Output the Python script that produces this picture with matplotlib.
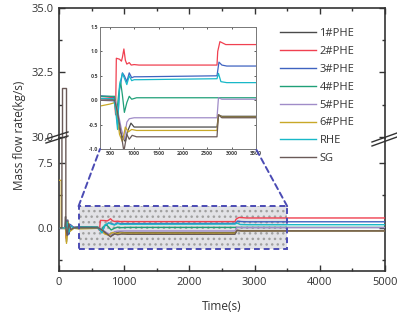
import matplotlib
matplotlib.use("Agg")
import matplotlib.pyplot as plt
from matplotlib.patches import Rectangle, ConnectionPatch
from matplotlib.lines import Line2D
from matplotlib.ticker import MultipleLocator, FormatStrFormatter

plt.rcParams['font.family'] = ['Open Sans', 'DejaVu Sans']

# series: (time s, mass flow kg/s)
labels = ['1#PHE', '2#PHE', '3#PHE', '4#PHE', '5#PHE', '6#PHE', 'RHE', 'SG']
colors = ['#4a4a4a', '#f04050', '#3f63c0', '#20a078', '#a08cc8', '#c8a828', '#18b8c8', '#6a5a58']

t_phe1 = [0, 90, 100, 115, 135, 155, 180, 230, 300, 600, 640, 700, 760, 820, 860, 935, 1000, 1100, 2700, 2730, 2800, 5000]
v_phe1 = [0, 0, 1.3, -1.6, 0.9, -0.7, 0.3, 0, 0.03, 0.02, -0.2, -0.6, -0.75, -0.85, -0.65, -0.47, -0.55, -0.55, -0.55, -0.3, -0.33, -0.33]

t_phe2 = [0, 100, 110, 130, 150, 175, 220, 300, 590, 620, 635, 700, 740, 760, 790, 820, 850, 900, 940, 1000, 1100, 2700, 2715, 2760, 2880, 5000]
v_phe2 = [0, 0, -1.2, 0.8, -0.5, 0.3, 0.05, 0.08, 0.05, -0.3, 0.86, 0.84, 0.8, 0.88, 1.05, 0.82, 0.74, 0.77, 0.72, 0.73, 0.72, 0.72, 1.0, 1.2, 1.14, 1.14]

t_phe3 = [0, 100, 120, 145, 170, 220, 300, 580, 620, 660, 700, 760, 800, 850, 900, 950, 1000, 1100, 2700, 2740, 2800, 2900, 5000]
v_phe3 = [0, 0, 0.9, -0.8, 0.4, 0.05, 0.09, 0.07, -0.1, -0.5, 0.2, 0.56, 0.5, 0.38, 0.56, 0.46, 0.48, 0.48, 0.5, 0.78, 0.72, 0.7, 0.7]

t_phe4 = [0, 100, 130, 160, 220, 300, 600, 640, 680, 720, 760, 800, 850, 900, 950, 1050, 2700, 5000]
v_phe4 = [0, 0, 0.7, -0.4, 0, 0.08, 0.08, -0.3, 0.1, 0.4, 0.1, -0.25, -0.05, 0.08, 0.02, 0.05, 0.05, 0.05]

t_phe5 = [0, 100, 130, 160, 220, 300, 620, 680, 740, 800, 850, 900, 1000, 2700, 2730, 2800, 5000]
v_phe5 = [0, 0, -0.5, 0.3, 0, 0.0, -0.02, -0.3, -0.6, -0.8, -0.45, -0.38, -0.36, -0.36, 0.05, 0.02, 0.02]

t_phe6 = [0, 35, 35, 100, 115, 140, 170, 230, 300, 500, 600, 650, 700, 760, 820, 880, 950, 1050, 2700, 2730, 2800, 5000]
v_phe6 = [5.5, 5.5, 0, 0, -1.8, 0.6, -0.4, -0.05, -0.12, -0.08, -0.05, -0.3, -0.7, -0.85, -0.55, -0.65, -0.6, -0.62, -0.62, -0.3, -0.35, -0.35]

t_rhe = [0, 100, 120, 150, 180, 230, 300, 580, 620, 660, 700, 760, 800, 850, 900, 950, 1000, 1100, 2700, 2730, 2780, 2900, 5000]
v_rhe = [0, 0, 0.6, -0.5, 0.2, 0, 0.04, 0.03, -0.2, -0.6, 0.3, 0.55, 0.45, 0.32, 0.5, 0.4, 0.42, 0.42, 0.44, 0.55, 0.38, 0.36, 0.36]

t_sg = [0, 45, 45, 105, 105, 125, 150, 180, 230, 300, 600, 650, 720, 790, 850, 900, 960, 1050, 2700, 2730, 2800, 5000]
v_sg = [0, 0, 31.9, 31.9, 0, -0.9, 0.5, -0.2, 0, 0.0, 0.0, -0.2, -0.6, -1.05, -0.7, -0.8, -0.72, -0.75, -0.75, -0.3, -0.36, -0.36]

series = [(t_phe1, v_phe1), (t_phe2, v_phe2), (t_phe3, v_phe3), (t_phe4, v_phe4),
          (t_phe5, v_phe5), (t_phe6, v_phe6), (t_rhe, v_rhe), (t_sg, v_sg)]

fig = plt.figure(figsize=(3.97, 3.22), dpi=100)
W, H = 397.0, 322.0

ax_lo = fig.add_axes([59 / W, 1 - 271 / H, 326 / W, 133 / H])
ax_hi = fig.add_axes([59 / W, 1 - 138 / H, 326 / W, 130 / H], sharex=ax_lo)
ax_in = fig.add_axes([100 / W, 1 - 149 / H, 156 / W, 122 / H])

dark = '#333333'
for ax in (ax_lo, ax_hi):
    for (t, v), c, lab in zip(series, colors, labels):
        ax.plot(t, v, color=c, lw=1.0, label=lab, zorder=3)
    for s in ax.spines.values():
        s.set_linewidth(1.2)
        s.set_color(dark)
    ax.tick_params(which='both', direction='in', colors=dark, labelsize=8, right=True, pad=4)
    ax.tick_params(which='major', length=4, width=1)
    ax.tick_params(which='minor', length=2.5, width=1)

ax_lo.set_xlim(0, 5000)
ax_lo.set_ylim(-5, 10.4)
ax_hi.set_ylim(29.95, 35)

ax_lo.xaxis.set_major_locator(MultipleLocator(1000))
ax_lo.xaxis.set_minor_locator(MultipleLocator(500))
ax_lo.yaxis.set_major_locator(MultipleLocator(7.5))
ax_lo.yaxis.set_minor_locator(MultipleLocator(3.75))
ax_hi.yaxis.set_major_locator(MultipleLocator(2.5))
ax_hi.yaxis.set_minor_locator(MultipleLocator(1.25))
ax_lo.yaxis.set_major_formatter(FormatStrFormatter('%.1f'))
ax_hi.yaxis.set_major_formatter(FormatStrFormatter('%.1f'))

ax_lo.spines['top'].set_visible(False)
ax_hi.spines['bottom'].set_visible(False)
ax_lo.tick_params(which='both', top=False)
ax_hi.tick_params(which='both', top=True, bottom=False, labelbottom=False)

ax_lo.set_xlabel('Time(s)', fontsize=8.5, color=dark, labelpad=9)
fig.text(20 / W, 1 - 135 / H, 'Mass flow rate(kg/s)', rotation=90, fontsize=8.5,
         color=dark, ha='center', va='center')

# zoom window in the main plot
ax_lo.add_patch(Rectangle((300, -2.5), 3200, 5.0, facecolor='#e2e2e6', edgecolor='#a0a0a0',
                          hatch='...', lw=0, zorder=2))
ax_lo.add_patch(Rectangle((300, -2.5), 3200, 5.0, fill=False, edgecolor='#4b4bb4',
                          lw=1.4, ls=(0, (3, 2)), zorder=4))

# inset
for (t, v), c in zip(series, colors):
    ax_in.plot(t, v, color=c, lw=0.9)
ax_in.set_xlim(300, 3500)
ax_in.set_ylim(-1.0, 1.5)
ax_in.xaxis.set_major_locator(MultipleLocator(500))
ax_in.yaxis.set_major_locator(MultipleLocator(0.5))
ax_in.yaxis.set_major_formatter(FormatStrFormatter('%.1f'))
ax_in.tick_params(direction='in', labelsize=3.8, length=1.5, width=0.6, pad=1.5,
                  top=True, right=True, colors='#444444')
for s in ax_in.spines.values():
    s.set_linewidth(0.7)
    s.set_color('#777777')
for lab in ax_in.get_xticklabels() + ax_in.get_yticklabels():
    lab.set_fontweight('bold')

for xa, xb in ((300, 0), (3500, 1)):
    cp = ConnectionPatch(xyA=(xa, 2.5), coordsA=ax_lo.transData, xyB=(xb, 0),
                         coordsB=ax_in.transAxes, color='#4b4bb4', lw=1.4, ls=(0, (3, 2)))
    fig.add_artist(cp)

# axis break marks
for x0, x1, y0, y1 in ((46, 68, 143, 136), (46, 68, 139, 132), (372, 397, 146, 137), (372, 397, 142, 133)):
    fig.add_artist(Line2D([x0 / W, x1 / W], [1 - y0 / H, 1 - y1 / H], color=dark, lw=1.0))

h, l = ax_lo.get_legend_handles_labels()
fig.legend(h, l, loc='upper left', bbox_to_anchor=(280 / W, 1 - 28 / H), frameon=False,
           fontsize=8, handlelength=3.2, handletextpad=0.35, labelspacing=0.62,
           borderpad=0, borderaxespad=0, labelcolor=dark)

fig.savefig('out.png', dpi=100)
